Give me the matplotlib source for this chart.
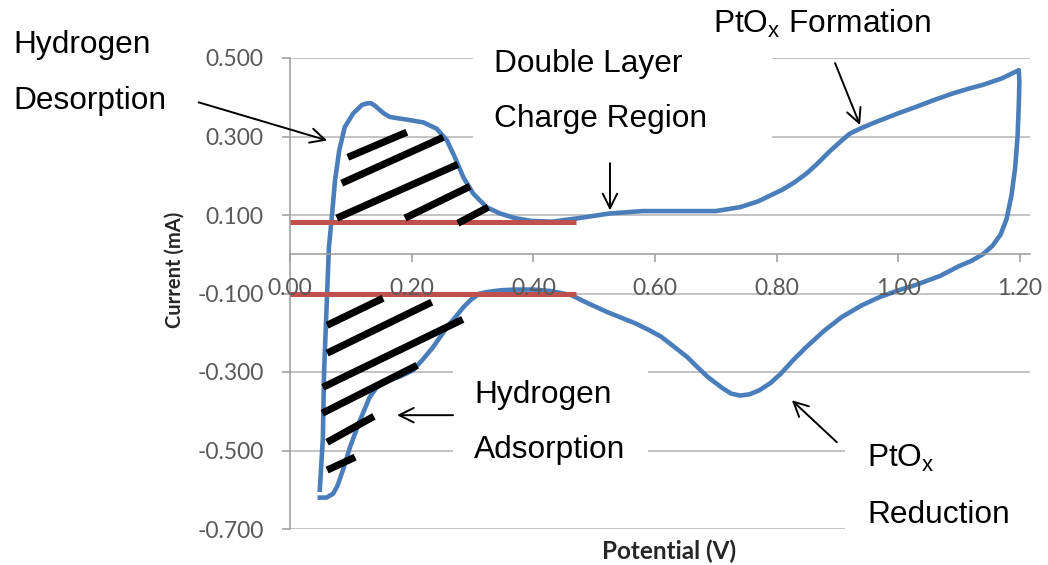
import matplotlib
matplotlib.use('Agg')
import matplotlib.pyplot as plt
from matplotlib.patches import Rectangle

W, H = 1048, 565

# ---------------- data ----------------
# anodic sweep (upper branch) then cathodic sweep (lower branch)
potential = [0.049, 0.054, 0.056, 0.061, 0.064, 0.069, 0.074, 0.081, 0.090, 0.104,
             0.118, 0.125, 0.133, 0.140, 0.148, 0.155, 0.164, 0.175, 0.192, 0.219,
             0.241, 0.258, 0.271, 0.285, 0.301, 0.323, 0.345, 0.370, 0.396, 0.431,
             0.470, 0.526, 0.580, 0.640, 0.700, 0.740, 0.770, 0.790, 0.810, 0.830,
             0.850, 0.867, 0.887, 0.907, 0.920, 0.937, 0.960, 0.998, 1.030, 1.057,
             1.090, 1.116, 1.140, 1.170, 1.198, 1.199, 1.198, 1.196, 1.192, 1.186,
             1.178, 1.168, 1.155, 1.139, 1.120, 1.100, 1.069, 1.027, 1.000, 0.968,
             0.940, 0.907, 0.878, 0.849, 0.827, 0.807, 0.790, 0.771, 0.755, 0.740,
             0.725, 0.710, 0.687, 0.670, 0.653, 0.630, 0.610, 0.590, 0.569, 0.545,
             0.521, 0.490, 0.462, 0.430, 0.401, 0.370, 0.345, 0.325, 0.312, 0.298,
             0.285, 0.272, 0.258, 0.235, 0.220, 0.202, 0.180, 0.159, 0.143, 0.131,
             0.115, 0.099, 0.087, 0.078, 0.071, 0.060, 0.049]
current = [-0.600, -0.470, -0.300, -0.100, 0.018, 0.099, 0.188, 0.265, 0.324, 0.359,
           0.380, 0.384, 0.385, 0.378, 0.367, 0.358, 0.350, 0.347, 0.343, 0.336,
           0.320, 0.290, 0.247, 0.196, 0.155, 0.120, 0.104, 0.092, 0.085, 0.083,
           0.091, 0.104, 0.110, 0.110, 0.110, 0.120, 0.135, 0.150, 0.165, 0.184,
           0.207, 0.231, 0.262, 0.290, 0.307, 0.320, 0.335, 0.358, 0.376, 0.392,
           0.410, 0.422, 0.432, 0.448, 0.469, 0.440, 0.380, 0.300, 0.220, 0.150,
           0.090, 0.050, 0.022, 0.000, -0.017, -0.030, -0.055, -0.079, -0.092, -0.110,
           -0.130, -0.160, -0.195, -0.236, -0.270, -0.304, -0.328, -0.347, -0.357, -0.360,
           -0.355, -0.340, -0.313, -0.288, -0.262, -0.234, -0.210, -0.193, -0.177, -0.162,
           -0.147, -0.125, -0.104, -0.094, -0.090, -0.090, -0.092, -0.096, -0.100, -0.115,
           -0.135, -0.160, -0.186, -0.237, -0.265, -0.296, -0.312, -0.321, -0.338, -0.364,
           -0.423, -0.490, -0.550, -0.590, -0.610, -0.620, -0.620]

# double-layer baselines
base_x = [0.0, 0.47]
base_top = [0.083, 0.083]
base_bottom = [-0.100, -0.100]

# hatch strokes (start V, start I, end V, end I)
hatch_top = [(0.095, 0.247, 0.192, 0.311),
             (0.085, 0.181, 0.252, 0.298),
             (0.077, 0.092, 0.276, 0.229),
             (0.189, 0.092, 0.296, 0.173),
             (0.276, 0.079, 0.326, 0.120)]
hatch_bottom = [(0.061, -0.181, 0.153, -0.112),
                (0.061, -0.252, 0.233, -0.122),
                (0.054, -0.339, 0.284, -0.166),
                (0.053, -0.405, 0.209, -0.283),
                (0.061, -0.479, 0.138, -0.413),
                (0.061, -0.550, 0.107, -0.517)]

xticks = [0.0, 0.2, 0.4, 0.6, 0.8, 1.0, 1.2]
yticks = [-0.7, -0.5, -0.3, -0.1, 0.1, 0.3, 0.5]

# ---------------- style ----------------
plt.rcParams['font.family'] = ['Liberation Sans', 'DejaVu Sans']
plt.rcParams['mathtext.fontset'] = 'custom'
plt.rcParams['mathtext.rm'] = 'Liberation Sans'
plt.rcParams['mathtext.it'] = 'Liberation Sans:italic'

BLUE = '#4A7EBB'
RED = '#C0504D'
GRID = '#B3B3B3'
TICKC = '#595959'

fig = plt.figure(figsize=(W / 100, H / 100), dpi=100)
L, R, T, B = 290, 1030, 58, 529
ax = fig.add_axes([L / W, 1 - B / H, (R - L) / W, (B - T) / H])
ax.set_xlim(0, 1.2 + 10 / 608.3)
ax.set_ylim(-0.7, 0.5)

ax.set_axisbelow(True)
ax.yaxis.grid(True, color=GRID, lw=1.1)
ax.xaxis.grid(False)
for s in ['top', 'right']:
    ax.spines[s].set_visible(False)
ax.spines['left'].set_color('#9A9A9A')
ax.spines['bottom'].set_color('#9A9A9A')
ax.spines['bottom'].set_position(('data', 0))
ax.spines['left'].set_linewidth(1.1)
ax.spines['bottom'].set_linewidth(1.1)

ax.set_xticks(xticks)
ax.set_xticklabels(['%.2f' % v for v in xticks])
ax.set_yticks(yticks)
ax.set_yticklabels(['%.3f' % v for v in yticks])
ax.tick_params(axis='both', colors='#9A9A9A', labelcolor=TICKC, width=1.1)
ax.tick_params(axis='y', length=6, pad=13)
ax.tick_params(axis='x', length=5.5, pad=11.5)
for lab in ax.get_xticklabels() + ax.get_yticklabels():
    lab.set_fontfamily('Lato')
    lab.set_fontsize(16.5)
ax.xaxis.set_zorder(6)


def fx(px):
    return px / W


def fy(py):
    return 1 - py / H


# white boxes covering gridlines (text boxes in original)
for (x0, y0, x1, y1) in [(473, 40, 772, 146), (453, 360, 648, 472), (845, 435, 1045, 545)]:
    ax.add_patch(Rectangle((fx(x0), fy(y1)), (x1 - x0) / W, (y1 - y0) / H,
                           transform=fig.transFigure, fc='white', ec='none',
                           zorder=1, clip_on=False))

# curve and baselines
ax.plot(potential, current, color=BLUE, lw=3.3, zorder=2, solid_joinstyle='round')
ax.plot(base_x, base_top, color=RED, lw=3.6, zorder=3, solid_capstyle='butt')
ax.plot(base_x, base_bottom, color=RED, lw=3.6, zorder=3, solid_capstyle='butt')

for (x0, y0, x1, y1) in hatch_top + hatch_bottom:
    ax.plot([x0, x1], [y0, y1], color='black', lw=5.2, zorder=5, solid_capstyle='butt')

# arrows
arrows = [((-0.150, 0.387), (0.061, 0.290)),
          ((0.526, 0.232), (0.526, 0.112)),
          ((0.896, 0.487), (0.937, 0.329)),
          ((0.268, -0.410), (0.176, -0.410)),
          ((0.899, -0.479), (0.825, -0.372))]
for tail, head in arrows:
    ax.annotate('', xy=head, xytext=tail, annotation_clip=False,
                arrowprops=dict(arrowstyle='->', lw=1.4, color='black',
                                mutation_scale=26, shrinkA=0, shrinkB=0),
                zorder=6)

# annotation texts (left, baseline in pixels)
FS = 22.8
texts = [(13, 53, 'Hydrogen'), (13, 109, 'Desorption'),
         (494, 72, 'Double Layer'), (494, 127, 'Charge Region'),
         (713, 33, r'PtO$_{\mathrm{x}}$ Formation'),
         (474, 403, 'Hydrogen'), (474, 458, 'Adsorption'),
         (867, 467, r'PtO$_{\mathrm{x}}$'), (867, 523, 'Reduction')]
for (px, py, s) in texts:
    fig.text(fx(px), fy(py), s, fontsize=FS, ha='left', va='baseline', color='black')

# axis titles
fig.text(fx(175), fy(270), 'Current (mA)', rotation=90, ha='center', va='center',
         fontfamily='Lato', fontweight='bold', fontsize=14.5, color='#262626')
fig.text(fx(669), fy(551), 'Potential (V)', ha='center', va='center',
         fontfamily='Lato', fontweight='bold', fontsize=17.5, color='#262626')

fig.savefig('out.png', dpi=100)
